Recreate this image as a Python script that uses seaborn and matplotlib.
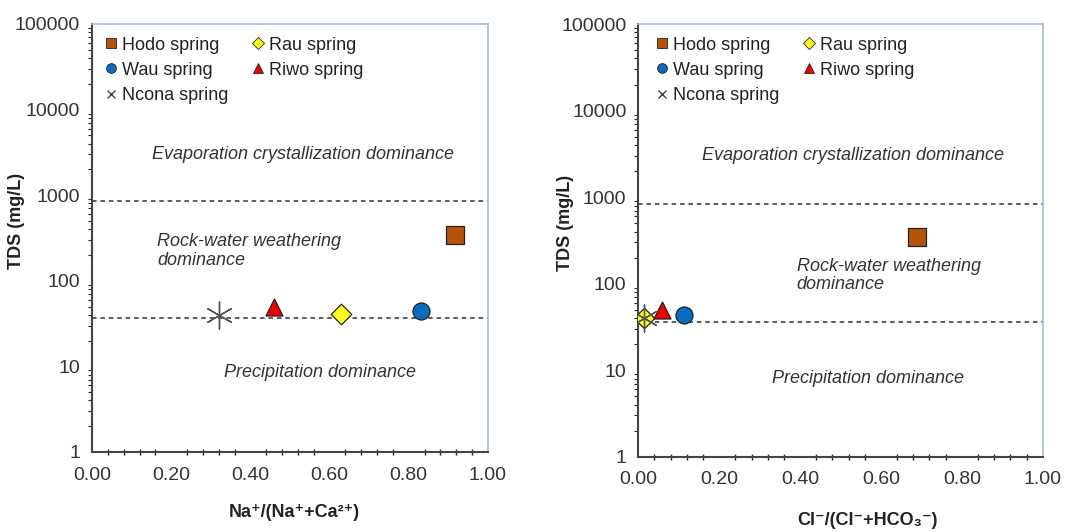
import matplotlib
matplotlib.use("Agg")
import matplotlib.pyplot as plt
import matplotlib.ticker as mticker
from matplotlib.lines import Line2D
import seaborn as sns
import pandas as pd

sns.set_theme(style="white")
plt.rcParams['font.family'] = ['Liberation Sans', 'DejaVu Sans']

springs = ["Hodo spring", "Rau spring", "Wau spring", "Riwo spring", "Ncona spring"]
tds = [343, 41, 44, 50, 40]
na_ratio = [0.917, 0.63, 0.83, 0.46, 0.32]
cl_ratio = [0.69, 0.015, 0.113, 0.058, 0.015]
tds_right = [342, 40, 43, 49, 40]
upper_boundary = [850, 830]
lower_boundary = [37, 36]

colors = {"Hodo spring": "#b5530c", "Rau spring": "#ffff1a", "Wau spring": "#0b6bbd",
          "Riwo spring": "#ee0000", "Ncona spring": "#555555"}
markers = {"Hodo spring": "s", "Rau spring": "D", "Wau spring": "o",
           "Riwo spring": "^", "Ncona spring": (6, 2, 0)}
sizes = {"Hodo spring": 150, "Rau spring": 110, "Wau spring": 150,
         "Riwo spring": 150, "Ncona spring": 380}

fig = plt.figure(figsize=(10.7, 5.32), dpi=100)
ax1 = fig.add_axes([0.086, 0.1504, 0.370, 0.8045])
ax2 = fig.add_axes([0.5965, 0.1415, 0.378, 0.8133])

txt_color = "#333333"
panels = [
    (ax1, na_ratio, tds, "Na⁺/(Na⁺+Ca²⁺)", 0),
    (ax2, cl_ratio, tds_right, "Cl⁻/(Cl⁻+HCO₃⁻)", 1),
]
ylabel_x = [-0.169, -0.159]
xlabel_pos = [(0.51, -0.121), (0.567, -0.128)]
leg_x = [0.0, 0.012]

for ax, xs, ys, xlabel, i in panels:
    df = pd.DataFrame({"spring": springs, "x": xs, "y": ys})
    ax.axhline(upper_boundary[i], color="#333333", ls=(0, (3, 2.5)), lw=1.1, zorder=1)
    ax.axhline(lower_boundary[i], color="#333333", ls=(0, (3, 2.5)), lw=1.1, zorder=1)
    for sp in springs:
        sub = df[df.spring == sp]
        if sp == "Ncona spring":
            sns.scatterplot(data=sub, x="x", y="y", marker=markers[sp], s=sizes[sp],
                            color=colors[sp], linewidth=1.0, ax=ax, zorder=3, legend=False)
        else:
            sns.scatterplot(data=sub, x="x", y="y", marker=markers[sp], s=sizes[sp],
                            color=colors[sp], edgecolor="#222222", linewidth=0.9,
                            ax=ax, zorder=3, legend=False)
    ax.set_yscale("log")
    ax.set_ylim(1, 100000)
    ax.set_xlim(0, 1)
    ax.xaxis.set_major_locator(mticker.MultipleLocator(0.2))
    ax.xaxis.set_minor_locator(mticker.MultipleLocator(0.04))
    ax.xaxis.set_major_formatter(mticker.FormatStrFormatter("%.2f"))
    ax.yaxis.set_major_locator(mticker.LogLocator(base=10, numticks=10))
    ax.yaxis.set_minor_locator(mticker.LogLocator(base=10, subs=range(2, 10), numticks=10))
    ax.yaxis.set_major_formatter(mticker.FuncFormatter(lambda v, p: f"{int(round(v))}"))
    ax.yaxis.set_minor_formatter(mticker.NullFormatter())
    ax.tick_params(axis="both", which="major", labelsize=14, colors="#444444", labelcolor="#333333")
    ax.tick_params(axis="x", which="major", direction="inout", length=9, width=1.3, pad=6)
    ax.tick_params(axis="x", which="minor", direction="inout", length=5, width=1.0, bottom=True)
    ax.tick_params(axis="y", which="major", direction="out", length=5, width=1.2)
    ax.tick_params(axis="y", which="minor", direction="out", length=3, width=0.8, left=True)
    for s in ["left", "bottom"]:
        ax.spines[s].set_color("#444444")
        ax.spines[s].set_linewidth(1.5)
    for s in ["top", "right"]:
        ax.spines[s].set_color("#a9bccf")
        ax.spines[s].set_linewidth(1.2)
    ax.set_xlabel(xlabel, fontsize=13, fontweight="bold", color="#222222")
    ax.set_ylabel("TDS (mg/L)", fontsize=13, fontweight="bold", color="#222222")
    ax.yaxis.set_label_coords(ylabel_x[i], 0.54)
    ax.xaxis.set_label_coords(*xlabel_pos[i])

    handles = {}
    for sp in springs:
        if sp == "Ncona spring":
            h = Line2D([], [], ls="none", marker="x", color="#444444", markersize=6, mew=1.0, label=sp)
        else:
            h = Line2D([], [], ls="none", marker=markers[sp], markerfacecolor=colors[sp],
                       markeredgecolor="#222222", markeredgewidth=0.6,
                       markersize=7 if sp != "Rau spring" else 6, label=sp)
        handles[sp] = h
    order = ["Hodo spring", "Wau spring", "Ncona spring", "Rau spring", "Riwo spring"]
    leg = ax.legend(handles=[handles[k] for k in order], ncol=2, loc="upper left",
                    frameon=False, fontsize=13, handlelength=0.7,
                    handletextpad=0.25, columnspacing=1.3, labelspacing=0.45,
                    bbox_to_anchor=(leg_x[i], 1.0), borderaxespad=0.3)
    for t in leg.get_texts():
        t.set_color("#222222")

# region labels
ax1.text(0.533, 2950, "Evaporation crystallization dominance", style="italic",
         fontsize=13, color=txt_color, ha="center", va="center")
ax1.text(0.164, 223, "Rock-water weathering\ndominance", style="italic", fontsize=13,
         color=txt_color, ha="left", va="center", linespacing=1.1)
ax1.text(0.576, 8.4, "Precipitation dominance", style="italic", fontsize=13,
         color=txt_color, ha="center", va="center")

ax2.text(0.531, 3060, "Evaporation crystallization dominance", style="italic",
         fontsize=13, color=txt_color, ha="center", va="center")
ax2.text(0.392, 125, "Rock-water weathering\ndominance", style="italic", fontsize=13,
         color=txt_color, ha="left", va="center", linespacing=1.1)
ax2.text(0.567, 8.1, "Precipitation dominance", style="italic", fontsize=13,
         color=txt_color, ha="center", va="center")

fig.savefig("out.png", dpi=100, facecolor="white")
